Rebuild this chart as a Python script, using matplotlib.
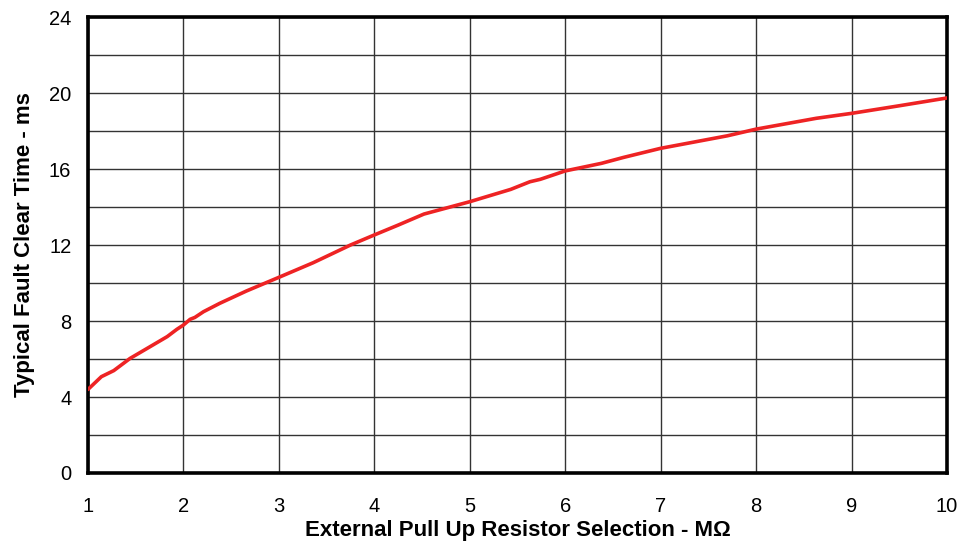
import matplotlib
matplotlib.use("Agg")
from matplotlib import pyplot as plt
from matplotlib.ticker import MultipleLocator


# Data
resistance_mohm = [1.0, 1.14, 1.27, 1.44, 1.62, 1.83, 1.93, 2.0, 2.07, 2.12,
                   2.21, 2.38, 2.66, 3.0, 3.36, 3.75, 4.0, 4.25, 4.52, 5.0,
                   5.43, 5.63, 5.74, 6.0, 6.38, 6.61, 7.0, 7.7, 8.0, 8.63,
                   9.0, 9.5, 10.0]
clear_time_ms = [4.40, 5.07, 5.39, 6.03, 6.56, 7.18, 7.56, 7.79, 8.09, 8.19,
                 8.49, 8.93, 9.58, 10.30, 11.07, 12.0, 12.53, 13.05, 13.63, 14.28,
                 14.93, 15.33, 15.46, 15.90, 16.30, 16.61, 17.09, 17.75, 18.10, 18.67,
                 18.93, 19.33, 19.74]

x_ticks = [1, 2, 3, 4, 5, 6, 7, 8, 9, 10]
y_ticks = [0, 4, 8, 12, 16, 20, 24]

plt.rcParams['font.family'] = ['Liberation Sans', 'DejaVu Sans']

fig = plt.figure(figsize=(9.64, 5.5), dpi=100)
ax = fig.add_axes([0.0913, 0.14, 0.891, 0.829])

ax.plot(resistance_mohm, clear_time_ms, color='#ee2324', linewidth=2.6,
        solid_capstyle='round', zorder=3)

ax.set_xlim(1, 10)
ax.set_ylim(0, 24)
ax.set_xticks(x_ticks)
ax.set_yticks(y_ticks)
ax.yaxis.set_minor_locator(MultipleLocator(2))
ax.grid(True, which='both', color='#333333', linewidth=1.0)
ax.set_axisbelow(True)

ax.tick_params(which='both', length=0, labelsize=14.5)
ax.tick_params(axis='x', pad=17)
ax.tick_params(axis='y', pad=12)

for spine in ax.spines.values():
    spine.set_linewidth(2.6)
    spine.set_color('black')

ax.set_xlabel('External Pull Up Resistor Selection - M\u03a9',
              fontsize=16, fontweight='bold', labelpad=3)
ax.set_ylabel('Typical Fault Clear Time - ms',
              fontsize=16, fontweight='bold', labelpad=10)

fig.savefig('out.png', dpi=100)
